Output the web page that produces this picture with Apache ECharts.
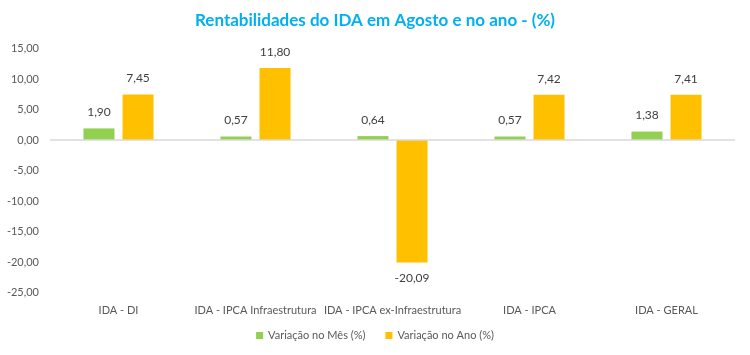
<!DOCTYPE html>
<html>
<head>
<meta charset="utf-8">
<script src="https://cdn.jsdelivr.net/npm/echarts@6/dist/echarts.min.js"></script>
<style>html,body{margin:0;padding:0;background:#fff;}#c{width:750px;height:355px;}</style>
</head>
<body>
<div id="c"></div>
<script>
const categories = ['IDA - DI', 'IDA - IPCA Infraestrutura', 'IDA - IPCA ex-Infraestrutura', 'IDA - IPCA', 'IDA - GERAL'];
const mesValues = [1.90, 0.57, 0.64, 0.57, 1.38];
const anoValues = [7.45, 11.80, -20.09, 7.42, 7.41];
const seriesNames = ['Variação no Mês (%)', 'Variação no Ano (%)'];
const titleText = 'Rentabilidades do IDA em Agosto e no ano - (%)';

const fmt = v => v.toFixed(2).replace('.', ',');
const font = 'Lato';
const chart = echarts.init(document.getElementById('c'));
chart.setOption({
  animation: false,
  textStyle: { fontFamily: font },
  title: {
    text: titleText, left: 'center', top: 7,
    textStyle: { color: '#00B0F0', fontSize: 17, fontWeight: 'bold', fontFamily: font }
  },
  legend: {
    left: 'center', top: 325, itemWidth: 7, itemHeight: 7, itemGap: 20,
    icon: 'rect',
    textStyle: { color: '#595959', fontSize: 11, fontFamily: font },
    data: seriesNames
  },
  grid: { left: 50, right: 15, top: 48.5, bottom: 62.5 },
  xAxis: {
    type: 'category', data: categories,
    axisLine: { show: false, onZero: false }, axisTick: { show: false },
    axisLabel: { color: '#595959', fontSize: 11, margin: 12, interval: 0, fontFamily: font }
  },
  yAxis: {
    type: 'value', min: -25, max: 15, interval: 5,
    splitLine: { show: false }, axisLine: { show: false }, axisTick: { show: false },
    axisLabel: { color: '#595959', fontSize: 11, margin: 11, formatter: fmt, fontFamily: font }
  },
  series: [
    {
      name: seriesNames[0], type: 'bar', data: mesValues, barWidth: 31, barGap: '26%',
      itemStyle: { color: '#92D050' },
      label: { show: true, position: 'top', distance: 10, color: '#404040', fontSize: 12, formatter: p => fmt(p.value), fontFamily: font },
      markLine: {
        silent: true, symbol: 'none', label: { show: false },
        lineStyle: { color: '#D9D9D9', width: 1.5, type: 'solid' },
        data: [{ yAxis: 0 }]
      }
    },
    {
      name: seriesNames[1], type: 'bar',
      data: anoValues.map(v => v < 0 ? { value: v, label: { position: 'bottom' } } : v),
      barWidth: 31,
      itemStyle: { color: '#FFC000' },
      label: { show: true, position: 'top', distance: 10, color: '#404040', fontSize: 12, formatter: p => fmt(p.value), fontFamily: font }
    }
  ]
});
</script>
</body>
</html>
